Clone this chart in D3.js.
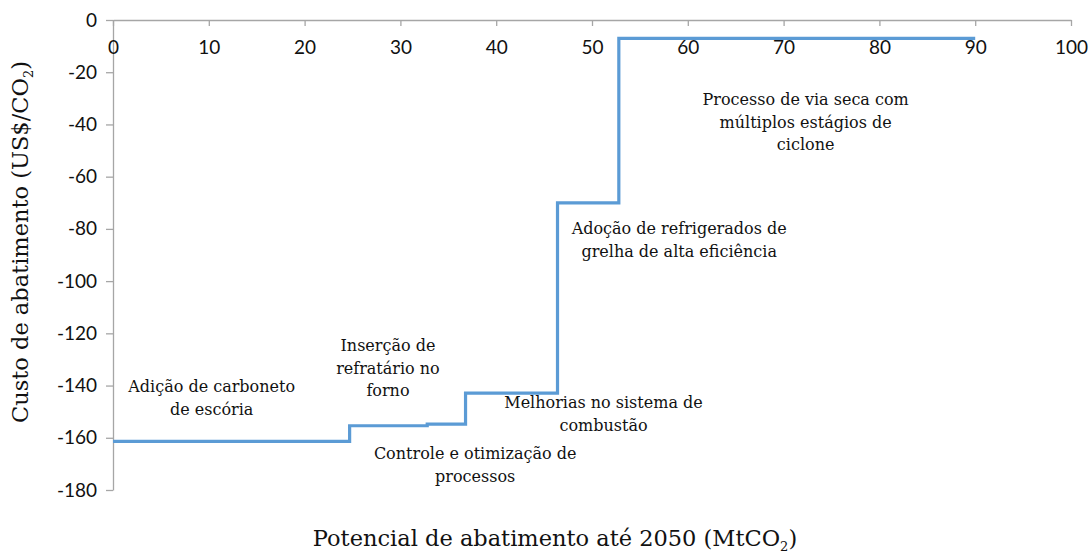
<!DOCTYPE html>
<html>
<head>
<meta charset="utf-8">
<script src="https://cdn.jsdelivr.net/npm/d3@7"></script>
<style>
  body { margin: 0; background: #fff; }
  .axis path, .axis line { stroke: #a6a6a6; stroke-width: 1.3; }
  .axis text { font-family: Lato, "Liberation Sans", sans-serif; font-size: 19px; fill: #111; }
  .note { font-family: "DejaVu Serif", serif; font-size: 16px; fill: #111; }
  .title { font-family: "DejaVu Serif", serif; font-size: 22.5px; fill: #111; }
</style>
</head>
<body>
<div id="app"></div>
<script>
// step start points: abatement potential (MtCO2) and cost (US$/CO2)
const stepX = [0, 24.7, 32.8, 36.8, 46.4, 52.8, 90];
const stepY = [-161.4, -155.4, -154.8, -142.9, -70, -7, -7];

const xTicks = [0, 10, 20, 30, 40, 50, 60, 70, 80, 90, 100];
const yTicks = [0, -20, -40, -60, -80, -100, -120, -140, -160, -180];

const noteLines = [
  ["Adição de carboneto", "de escória"],
  ["Inserção de", "refratário no", "forno"],
  ["Controle e otimização de", "processos"],
  ["Melhorias no sistema de", "combustão"],
  ["Adoção de refrigerados de", "grelha de alta eficiência"],
  ["Processo de via seca com", "múltiplos estágios de", "ciclone"]
];
// anchor of each note in data units (centre x, first line y)
const noteX = [10.3, 28.7, 37.8, 51.2, 59.1, 72.3];
const noteY = [-140.5, -124.8, -166, -146.6, -80, -30.5];

const margin = {top: 20, right: 21, bottom: 66, left: 113}
    , width = 1092 - margin.left - margin.right
    , height = 556 - margin.top - margin.bottom;

const x = d3.scaleLinear().domain([0, 100]).range([0, width]);
const y = d3.scaleLinear().domain([0, -180]).range([0, height]);

const svg = d3.select("#app").append("svg")
    .attr("width", 1092)
    .attr("height", 556)
  .append("g")
    .attr("transform", `translate(${margin.left}, ${margin.top})`);

// y axis
svg.append("g")
    .attr("class", "axis")
    .call(d3.axisLeft(y).tickValues(yTicks).tickFormat(d => String(d))
      .tickSize(7).tickSizeOuter(0).tickPadding(9));

// x axis at cost 0, ticks pointing down
svg.append("g")
    .attr("class", "axis")
    .attr("transform", `translate(0, ${y(0)})`)
    .call(d3.axisBottom(x).tickValues(xTicks).tickFormat(d => String(d))
      .tickSize(6).tickSizeOuter(0).tickPadding(15));

// step line
const pts = stepX.map((d, i) => [d, stepY[i]]);
svg.append("path")
    .datum(pts)
    .attr("fill", "none")
    .attr("stroke", "#5b9bd5")
    .attr("stroke-width", 3.2)
    .attr("d", d3.line().x(d => x(d[0])).y(d => y(d[1])).curve(d3.curveStepAfter));

// notes
noteLines.forEach((lines, i) => {
  const t = svg.append("text")
      .attr("class", "note")
      .attr("text-anchor", "middle")
      .attr("x", x(noteX[i]))
      .attr("y", y(noteY[i]));
  lines.forEach((l, j) => {
    t.append("tspan")
        .attr("x", x(noteX[i]))
        .attr("dy", j === 0 ? "0.35em" : 22.5)
        .text(l);
  });
});

// axis titles
const xt = svg.append("text")
    .attr("class", "title")
    .attr("text-anchor", "middle")
    .attr("x", 555 - margin.left)
    .attr("y", 546 - margin.top);
xt.append("tspan").text("Potencial de abatimento até 2050 (MtCO");
xt.append("tspan").attr("font-size", 13).attr("dy", 5).text("2");
xt.append("tspan").attr("dy", -5).text(")");

const yt = svg.append("text")
    .attr("class", "title")
    .attr("text-anchor", "middle")
    .attr("transform", `translate(${28 - margin.left}, ${242 - margin.top}) rotate(-90)`);
yt.append("tspan").text("Custo de abatimento (US$/CO");
yt.append("tspan").attr("font-size", 13).attr("dy", 5).text("2");
yt.append("tspan").attr("dy", -5).text(")");
</script>
</body>
</html>
